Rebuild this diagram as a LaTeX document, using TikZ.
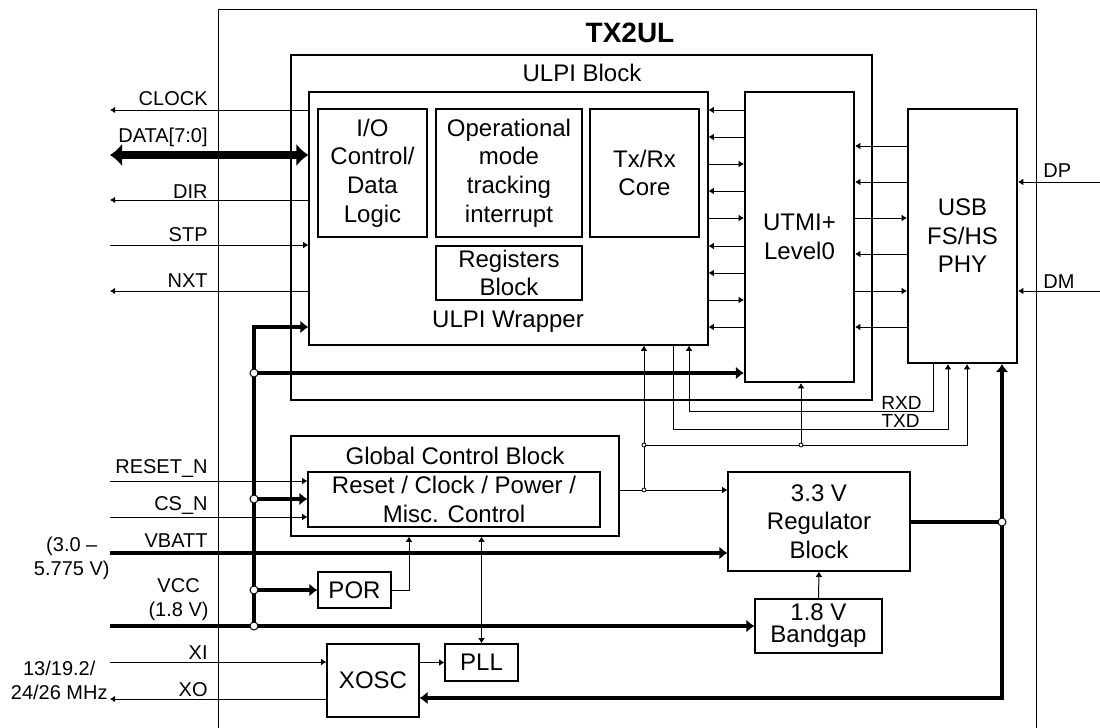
\documentclass[tikz,border=0pt]{standalone}
\usepackage{fontspec}
\setmainfont{Liberation Sans}
\usetikzlibrary{arrows.meta}
\tikzset{
  box/.style={draw, line width=0.6pt, inner sep=0pt, align=center, font=\fontsize{12}{14.3}\selectfont},
  bigbox/.style={box, line width=1.1pt},
  txt/.style={inner sep=0pt, font=\fontsize{12}{14.3}\selectfont},
  sig/.style={inner sep=0pt, font=\fontsize{10}{12}\selectfont},
  wire/.style={line width=0.5pt},
  tip/.style={wire, -{Latex[length=2.6pt,width=3.4pt]}},
  tips/.style={wire, {Latex[length=2.6pt,width=3.4pt]}-{Latex[length=2.6pt,width=3.4pt]}},
  bus/.style={line width=2.2pt, -{Latex[length=4pt,width=6.5pt]}},
  buses/.style={line width=2.2pt, {Latex[length=4pt,width=6.5pt]}-{Latex[length=4pt,width=6.5pt]}},
  data/.style={line width=4pt, {Latex[length=6pt,width=11.5pt]}-{Latex[length=6pt,width=11.5pt]}},
}
% block between two corners, given in pixels
\newcommand{\blk}[7][box]{
  \pgfmathsetmacro{\bw}{(#5-#3)/2}
  \pgfmathsetmacro{\bh}{(#6-#4)/2}
  \node[#1, minimum width=\bw pt, minimum height=\bh pt] (#2) at ({(#3+#5)/2},{(#4+#6)/2}) {#7};
}
\begin{document}
\begin{tikzpicture}[x=0.5pt, y=-0.5pt]
\useasboundingbox (0,0) rectangle (1100,728);
% chip outline, open at the bottom
\draw[wire] (218,728) -- (218,9) -- (1036,9) -- (1036,728);
\node[inner sep=0pt, font=\bfseries\fontsize{14}{16}\selectfont] (title) at (630,33) {TX2UL};
% ULPI part
\blk[bigbox]{ulpi}{291}{55}{872}{400}{}
\node[txt] (ulpit) at (582,73) {ULPI Block};
\blk{wrap}{309}{92}{708}{345}{}
\node[txt] (wrapt) at (508,322) {ULPI Wrapper};
\blk{io}{318}{109}{427}{237}{I/O\\Control/\\Data\\Logic}
\blk{opm}{436}{109}{582}{237}{Operational\\mode\\tracking\\interrupt}
\blk{txrx}{590}{109}{699}{237}{Tx/Rx\\Core}
\blk{regs}{436}{246}{582}{300}{Registers\\Block}
\blk[bigbox]{utmi}{745}{92}{854}{382}{UTMI+\\Level0}
\blk[bigbox]{phy}{908}{109}{1017}{363}{USB\\FS/HS\\PHY}
% control part
\blk{gcb}{291}{436}{619}{536}{}
\node[txt] (gcbt) at (455,456) {Global Control Block};
\blk{rst}{308}{472}{600}{527}{Reset / Clock / Power /\\Misc. Control}
\blk{reg}{728}{472}{910}{571}{3.3 V\\Regulator\\Block}
\blk{por}{318}{572}{391}{608}{POR}
\blk[box, font=\fontsize{12}{11}\selectfont]{bgap}{755}{599}{882}{653}{1.8 V\\Bandgap}
\blk{pll}{445}{644}{518}{681}{PLL}
\blk{xosc}{327}{644}{419}{717}{XOSC}
% pin ends
\foreach \n/\y in {clk/110,dat/155,dir/200,stp/245,nxt/291,rstn/481,csn/517,vbat/553,vcc/626,xi/662,xo/699}
  \coordinate (p\n) at (110,\y);
\coordinate (pdp) at (1100,182);
\coordinate (pdm) at (1100,291);
% pin labels
\foreach \t/\y [count=\i] in {CLOCK/105,{DATA[7:0]}/142,DIR/198,STP/241,NXT/287,RESET\_N/473,CS\_N/510,VBATT/547,XI/659,XO/696}
  \node[sig, anchor=base east] (lab\i) at (208,\y) {\t};
\node[sig, align=center, anchor=south east] (labvcc) at (209,621) {VCC\\(1.8 V)};
\node[sig, align=center, anchor=east] (labvbat) at (110,558) {(3.0 --\\5.775 V)};
\node[sig, align=center, anchor=east] (labxtal) at (108,680) {13/19.2/\\24/26 MHz};
\node[sig, anchor=base west] (labdp) at (1043,177) {DP};
\node[sig, anchor=base west] (labdm) at (1043,288) {DM};
% ULPI pins
\draw[tip] (wrap.west |- pclk) -- (pclk);
\draw[data] (pdat) -- (wrap.west |- pdat);
\draw[tip] (wrap.west |- pdir) -- (pdir);
\draw[tip] (pstp) -- (wrap.west |- pstp);
\draw[tip] (wrap.west |- pnxt) -- (pnxt);
% wrapper <-> UTMI <-> PHY
\foreach \y in {110,137,191,246,273,327}
  \draw[tip] (utmi.west |- 0,\y) -- (wrap.east |- 0,\y);
\foreach \y in {164,218,300}
  \draw[tip] (wrap.east |- 0,\y) -- (utmi.west |- 0,\y);
\foreach \y in {146,182,254,327}
  \draw[tip] (phy.west |- 0,\y) -- (utmi.east |- 0,\y);
\foreach \y in {218,291}
  \draw[tip] (utmi.east |- 0,\y) -- (phy.west |- 0,\y);
\draw[tip] (pdp) -- (phy.east |- pdp);
\draw[tip] (pdm) -- (phy.east |- pdm);
% 1.8 V supply bus
\coordinate (b0) at (254,626);
\coordinate (b1) at (254,590);
\coordinate (b2) at (254,499);
\coordinate (b3) at (254,373);
\coordinate (btop) at (254,327);
\draw[bus] (b0) -- (btop) -- (wrap.west |- btop);
\draw[bus] (b3) -- (utmi.west |- b3);
\draw[bus] (b2) -- (rst.west |- b2);
\draw[bus] (b1) -- (por.west |- b1);
\draw[bus] (pvcc) -- (bgap.west |- pvcc);
\draw[bus] (pvbat) -- (reg.west |- pvbat);
% control inputs
\draw[tip] (prstn) -- (rst.west |- prstn);
\draw[tip] (pcsn) -- (rst.west |- pcsn);
\draw[tip] (pxi) -- (xosc.west |- pxi);
\draw[tip] (xosc.west |- pxo) -- (pxo);
\draw[tip] (por.east) -| (gcb.south -| 409,0);
\draw[tips] (pll.north) -- (gcb.south -| pll.north);
\draw[tip] (xosc.east |- pll) -- (pll.west);
\draw[tip] (bgap.north) -- (reg.south);
% control outputs
\coordinate (j1) at (644,490);
\coordinate (j2) at (644,445);
\coordinate (j3) at (801,445);
\draw[tip] (gcb.east |- j1) -- (reg.west |- j1);
\draw[tip] (j1) -- (wrap.south -| j1);
\draw[tip] (j2) -| (phy.south -| 967,0);
\draw[tip] (j3) -- (utmi.south -| j3);
% RXD / TXD
\draw[tip] (phy.south -| 933,0) |- (689,411) -- (wrap.south -| 689,0);
\draw[tip] (wrap.south -| 673,0) |- (948,429) -- (phy.south -| 948,0);
\node[font=\fontsize{9.5}{11}\selectfont, inner sep=0pt, anchor=base east] (labrxd) at (922,409) {RXD};
\node[font=\fontsize{9.5}{11}\selectfont, inner sep=0pt, anchor=base east] (labtxd) at (920,427) {TXD};
% 3.3 V output
\coordinate (j4) at (1002,522);
\draw[line width=2.2pt] (reg.east |- j4) -- (j4);
\draw[buses] (phy.south -| j4) -- (1002,698) -- (xosc.east |- 0,698);
% junctions
\foreach \c in {b0,b1,b2,b3,j4}
  \filldraw[wire, fill=white] (\c) circle (4);
\foreach \c in {j1,j2,j3}
  \filldraw[line width=0.4pt, fill=white] (\c) circle (2);
\end{tikzpicture}
\end{document}
